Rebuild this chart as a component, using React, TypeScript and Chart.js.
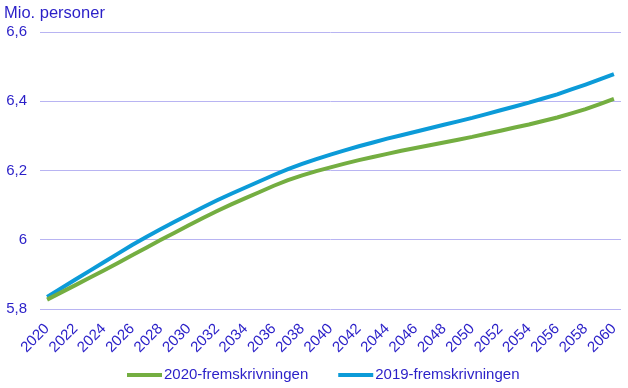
import React, { useEffect, useRef } from "react";
import { Chart, registerables } from "chart.js";

Chart.register(...registerables);

const years: string[] = [];
for (let y = 2020; y <= 2060; y++) years.push(String(y));

const series2020 = [
  5.827, 5.848, 5.869, 5.890, 5.911, 5.933, 5.955, 5.977, 5.999, 6.020,
  6.042, 6.063, 6.083, 6.102, 6.120, 6.138, 6.156, 6.172, 6.186, 6.198,
  6.209, 6.220, 6.230, 6.239, 6.248, 6.257, 6.265, 6.273, 6.281, 6.289,
  6.297, 6.306, 6.315, 6.324, 6.333, 6.343, 6.353, 6.365, 6.377, 6.392,
  6.407,
];

const series2019 = [
  5.835, 5.860, 5.885, 5.910, 5.935, 5.960, 5.985, 6.008, 6.030, 6.052,
  6.073, 6.094, 6.114, 6.133, 6.151, 6.169, 6.187, 6.204, 6.219, 6.233,
  6.246, 6.258, 6.270, 6.281, 6.292, 6.302, 6.312, 6.322, 6.332, 6.342,
  6.352, 6.363, 6.374, 6.385, 6.396, 6.408, 6.420, 6.434, 6.448, 6.463,
  6.478,
];

const seriesLabels = ["2020-fremskrivningen", "2019-fremskrivningen"];
const yTitle = "Mio. personer";
const yMin = 5.8;
const yMax = 6.6;
const yStep = 0.2;

const TEXT = "#2A1FC8";
const GRID = "#B8B4F2";
const GREEN = "#74AE41";
const BLUE = "#0C9BD8";
const FONT = "'Liberation Sans', Arial, sans-serif";

export default function App() {
  const ref = useRef<HTMLCanvasElement | null>(null);

  useEffect(() => {
    document.body.style.margin = "0";
    const canvas = ref.current;
    if (!canvas) return;

    const decorPlugin = {
      id: "decor",
      afterDraw(chart: any) {
        const ctx = chart.ctx;
        ctx.save();
        // unit title
        ctx.font = `16.5px ${FONT}`;
        ctx.fillStyle = TEXT;
        ctx.textAlign = "left";
        ctx.textBaseline = "alphabetic";
        ctx.fillText(yTitle, 4, 18);

        // legend
        ctx.font = `15px ${FONT}`;
        ctx.textBaseline = "middle";
        const ly = 375;
        let x = 127;
        chart.data.datasets.forEach((ds: any) => {
          ctx.strokeStyle = ds.borderColor;
          ctx.lineWidth = 4;
          ctx.beginPath();
          ctx.moveTo(x, ly);
          ctx.lineTo(x + 35, ly);
          ctx.stroke();
          ctx.fillStyle = TEXT;
          ctx.fillText(ds.label, x + 37, ly);
          x += 37 + ctx.measureText(ds.label).width + 30;
        });
        ctx.restore();
      },
    };

    const chart = new Chart(canvas, {
      type: "line",
      data: {
        labels: years,
        datasets: [
          {
            label: seriesLabels[0],
            data: series2020,
            borderColor: GREEN,
            backgroundColor: GREEN,
            borderWidth: 4,
            pointRadius: 0,
            tension: 0,
          },
          {
            label: seriesLabels[1],
            data: series2019,
            borderColor: BLUE,
            backgroundColor: BLUE,
            borderWidth: 4,
            pointRadius: 0,
            tension: 0,
          },
        ],
      },
      options: {
        animation: false,
        responsive: false,
        maintainAspectRatio: false,
        layout: { padding: { left: 0, right: 7, top: 32, bottom: 27 } },
        plugins: {
          legend: { display: false },
          title: { display: false },
          tooltip: { enabled: false },
        },
        scales: {
          x: {
            type: "category",
            offset: true,
            grid: { display: false, drawTicks: false },
            border: { display: false },
            afterFit: (s: any) => {
              s.height = 52;
              s.paddingLeft = 0;
              s.paddingRight = 0;
            },
            ticks: {
              autoSkip: false,
              maxRotation: 45,
              minRotation: 45,
              padding: 11,
              color: TEXT,
              font: { size: 15, family: FONT },
              callback: (_v: any, i: number) => (i % 2 === 0 ? years[i] : null),
            },
          },
          y: {
            min: yMin,
            max: yMax,
            grid: { color: GRID, lineWidth: 1, drawTicks: false },
            border: { display: false },
            afterFit: (s: any) => {
              s.width = 40;
            },
            ticks: {
              stepSize: yStep,
              padding: 13,
              color: TEXT,
              font: { size: 15, family: FONT },
              callback: (v: any) =>
                String(Math.round(Number(v) * 10) / 10).replace(".", ","),
            },
          },
        },
      },
      plugins: [decorPlugin],
    });

    return () => chart.destroy();
  }, []);

  return (
    <div style={{ position: "absolute", left: 0, top: 0, width: 628, height: 388, background: "#fff" }}>
      <canvas ref={ref} width={628} height={388} style={{ width: 628, height: 388 }} />
    </div>
  );
}
